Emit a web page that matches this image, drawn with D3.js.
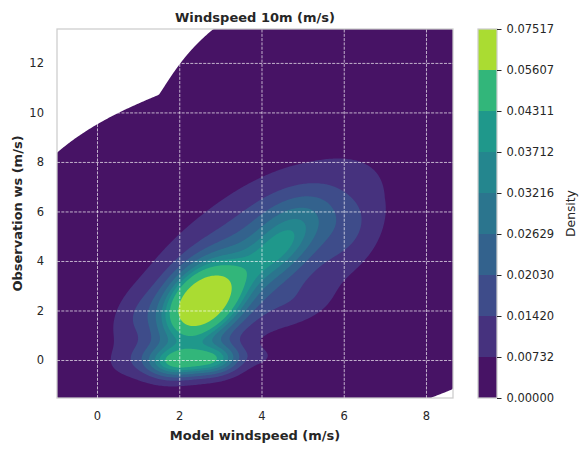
<!DOCTYPE html>
<html lang="en">
<head>
<meta charset="UTF-8">
<title>Windspeed 10m (m/s)</title>
<script src="https://d3js.org/d3.v7.min.js"></script>
<style>
    body { margin: 0; background: #ffffff; }
    svg { font-family: "DejaVu Sans", sans-serif; }
    .tick text { fill: #262626; font-size: 11.5px; }
</style>
</head>
<body>
<div id="chart"></div>
<script>
    // contour levels shown on the colourbar (first one is the tiny kde floor)
    const levels = [9e-6, 0.00732, 0.01420, 0.02030, 0.02629, 0.03216, 0.03712, 0.04311, 0.05607, 0.07517];

    const compModel   = [2.55, 1.90, 2.85, 4.40, 3.80, 1.00, 4.90, 6.20, 4.00, 0.90, 5.00];
    const compObs     = [2.29, -0.10, 0.00, 4.50, 4.00, 0.05, 6.00, 5.20, 0.10, 1.80, 2.20];
    const compSdModel = [0.66, 0.47, 0.47, 0.65, 2.00, 0.55, 0.80, 0.50, 0.35, 0.40, 0.60];
    const compSdObs   = [1.08, 0.45, 0.45, 1.00, 2.70, 0.50, 0.90, 1.00, 0.30, 0.80, 0.60];
    const compRho     = [0.37, 0.10, 0.10, 0.60, 0.63, 0.30, 0.30, 0.30, 0.00, 0.40, 0.30];
    const compPeak    = [0.062, 0.032, 0.032, 0.0175, 0.020, 0.006, 0.006, 0.005, 0.004, 0.005, 0.004];

    // far tail of the kde (sets where the density drops to zero)
    const tailModel = [4.70, 8.40];
    const tailObs   = [4.45, 9.33];
    const tailSd = 2.09;
    const tailPeak = 2e-3;

    const xTicks = [0, 2, 4, 6, 8];
    const yTicks = [0, 2, 4, 6, 8, 10, 12];

    const width = 588, height = 453;
    const plot = { left: 57, right: 453, top: 29, bottom: 398 };
    const cbar = { left: 478, right: 497 };

    const x = d3.scaleLinear().domain([-0.973, 8.657]).range([plot.left, plot.right]);
    const y = d3.scaleLinear().domain([-1.535, 13.37]).range([plot.bottom, plot.top]);

    function density(mx, my) {
        let sum = 0;
        for (let k = 0; k < compPeak.length; k++) {
            const dx = (mx - compModel[k]) / compSdModel[k];
            const dy = (my - compObs[k]) / compSdObs[k];
            const r = compRho[k];
            const q = (dx * dx - 2 * r * dx * dy + dy * dy) / (1 - r * r);
            sum += compPeak[k] * Math.exp(-q / 2);
        }
        let tail = 0;
        for (let k = 0; k < tailModel.length; k++) {
            const dx = mx - tailModel[k], dy = my - tailObs[k];
            tail = Math.max(tail, tailPeak * Math.exp(-(dx * dx + dy * dy) / (2 * tailSd * tailSd)));
        }
        return sum + tail;
    }

    const cell = 1.5;
    const nx = Math.round((plot.right - plot.left) / cell);
    const ny = Math.round((plot.bottom - plot.top) / cell);
    const values = new Float64Array(nx * ny);
    for (let j = 0; j < ny; j++) {
        const my = y.invert(plot.top + (j + 0.5) * cell);
        for (let i = 0; i < nx; i++) {
            values[i + j * nx] = density(x.invert(plot.left + (i + 0.5) * cell), my);
        }
    }

    const vmax = levels[levels.length - 1];
    const bandColor = levels.slice(0, -1).map((lv, k) =>
        d3.interpolateViridis(((k === 0 ? 0 : lv) + levels[k + 1]) / 2 / vmax));

    const svg = d3.select('#chart').append('svg')
        .attr('width', width)
        .attr('height', height);

    const contours = d3.contours().size([nx, ny]).thresholds(levels.slice(0, -1))(values);
    const path = d3.geoPath(d3.geoIdentity().scale(cell).translate([plot.left, plot.top]));

    svg.append('g')
        .selectAll('path')
        .data(contours)
        .join('path')
        .attr('d', path)
        .attr('fill', (d, i) => bandColor[i]);

    // axes with dashed white grid
    const xAxis = svg.append('g')
        .attr('transform', `translate(0,${plot.bottom})`)
        .call(d3.axisBottom(x).tickValues(xTicks).tickSize(-(plot.bottom - plot.top)).tickPadding(13.5));
    const yAxis = svg.append('g')
        .attr('transform', `translate(${plot.left},0)`)
        .call(d3.axisLeft(y).tickValues(yTicks).tickSize(-(plot.right - plot.left)).tickPadding(13));

    [xAxis, yAxis].forEach(ax => {
        ax.select('.domain').remove();
        ax.attr('font-family', null).attr('font-size', null);
        ax.selectAll('.tick line')
            .attr('stroke', '#ffffff')
            .attr('stroke-width', 0.8)
            .attr('stroke-dasharray', '3,1.3')
            .attr('opacity', 0.85);
    });

    svg.append('rect')
        .attr('x', plot.left).attr('y', plot.top)
        .attr('width', plot.right - plot.left).attr('height', plot.bottom - plot.top)
        .attr('fill', 'none').attr('stroke', '#cccccc').attr('stroke-width', 1.25);

    svg.append('text')
        .attr('x', (plot.left + plot.right) / 2).attr('y', 21.5)
        .attr('text-anchor', 'middle')
        .attr('font-size', 13).attr('font-weight', 'bold').attr('fill', '#262626')
        .text('Windspeed 10m (m/s)');

    svg.append('text')
        .attr('x', (plot.left + plot.right) / 2).attr('y', 440)
        .attr('text-anchor', 'middle')
        .attr('font-size', 13).attr('font-weight', 'bold').attr('fill', '#262626')
        .text('Model windspeed (m/s)');

    svg.append('text')
        .attr('transform', `translate(22,${(plot.top + plot.bottom) / 2}) rotate(-90)`)
        .attr('text-anchor', 'middle')
        .attr('font-size', 13).attr('font-weight', 'bold').attr('fill', '#262626')
        .text('Observation ws (m/s)');

    // colourbar, labels truncated to 5 decimals
    const cb = d3.scaleLinear().domain([0, levels.length - 1]).range([plot.bottom, plot.top]);
    const cbG = svg.append('g');
    cbG.selectAll('rect')
        .data(bandColor)
        .join('rect')
        .attr('x', cbar.left)
        .attr('y', (d, i) => cb(i + 1))
        .attr('width', cbar.right - cbar.left)
        .attr('height', (d, i) => cb(i) - cb(i + 1))
        .attr('fill', d => d);

    const cbAxis = svg.append('g')
        .attr('transform', `translate(${cbar.right},0)`)
        .call(d3.axisRight(cb).tickValues(d3.range(levels.length)).tickSize(4.5).tickPadding(5)
            .tickFormat(i => (Math.floor(levels[i] * 1e5 + 1e-6) / 1e5).toFixed(5)));
    cbAxis.select('.domain').remove();
    cbAxis.attr('font-family', null).attr('font-size', null);
    cbAxis.selectAll('.tick line').attr('stroke', '#262626').attr('stroke-width', 1);

    cbG.append('rect')
        .attr('x', cbar.left).attr('y', plot.top)
        .attr('width', cbar.right - cbar.left).attr('height', plot.bottom - plot.top)
        .attr('fill', 'none').attr('stroke', '#cccccc').attr('stroke-width', 1.25);

    svg.append('text')
        .attr('transform', `translate(575,${(plot.top + plot.bottom) / 2}) rotate(-90)`)
        .attr('text-anchor', 'middle')
        .attr('font-size', 12.3).attr('fill', '#262626')
        .text('Density');
</script>
</body>
</html>
